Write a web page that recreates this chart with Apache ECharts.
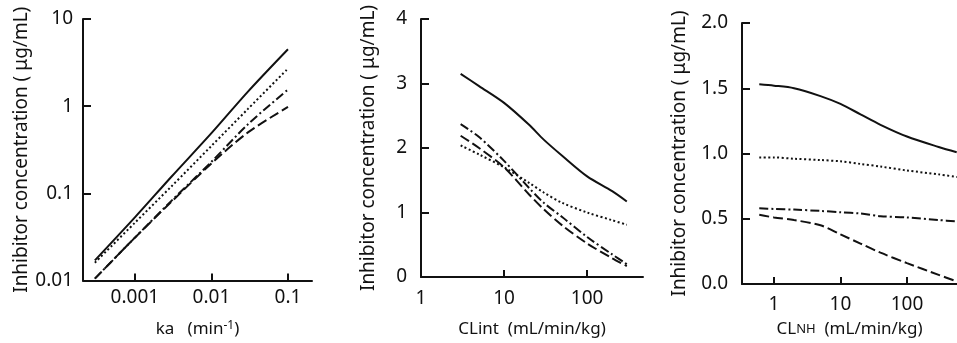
<!DOCTYPE html>
<html>
<head>
<meta charset="utf-8">
<script src="https://cdn.jsdelivr.net/npm/echarts@6/dist/echarts.min.js"></script>
<style>
html,body{margin:0;padding:0;background:#fff;}
#c{width:957px;height:343px;}
</style>
</head>
<body>
<div id="c"></div>
<script>
// ---- Panel 1: ka (log-log) ----
const p1X = [0.0003, 0.001, 0.003, 0.01, 0.03, 0.1];
const p1Solid = [0.017, 0.053, 0.155, 0.49, 1.47, 4.5];
const p1Dotted = [0.016, 0.046, 0.12, 0.35, 0.93, 2.7];
const p1DashDot = [0.0105, 0.031, 0.082, 0.23, 0.62, 1.55];
const p1LongDash = [0.0105, 0.031, 0.08, 0.22, 0.5, 0.98];
const p1XTicks = [0.001, 0.01, 0.1];
const p1YTicks = [0.01, 0.1, 1, 10];

// ---- Panel 2: CLint ----
const p2X = [3, 5, 10, 20, 30, 50, 100, 200, 300];
const p2Solid = [3.15, 2.96, 2.7, 2.36, 2.13, 1.88, 1.56, 1.33, 1.17];
const p2Dotted = [2.04, 1.9, 1.7, 1.46, 1.31, 1.15, 1.0, 0.88, 0.81];
const p2DashDot = [2.37, 2.17, 1.8, 1.38, 1.15, 0.93, 0.62, 0.35, 0.2];
const p2LongDash = [2.19, 2.0, 1.7, 1.28, 1.05, 0.8, 0.52, 0.29, 0.17];
const p2XTicks = [1, 10, 100];

// ---- Panel 3: CLNH ----
const p3X = [0.6, 1, 2, 5, 10, 20, 40, 100, 300, 560];
const p3Solid = [1.53, 1.52, 1.5, 1.44, 1.38, 1.3, 1.22, 1.13, 1.05, 1.01];
const p3Dotted = [0.97, 0.97, 0.96, 0.95, 0.94, 0.92, 0.9, 0.87, 0.84, 0.82];
const p3DashDot = [0.58, 0.575, 0.57, 0.56, 0.55, 0.54, 0.52, 0.51, 0.49, 0.48];
const p3LongDash = [0.53, 0.51, 0.49, 0.45, 0.38, 0.31, 0.24, 0.16, 0.07, 0.02];
const p3XTicks = [1, 10, 100];

const yName = 'Inhibitor concentration ( μg/mL)';
const FONT = 'Noto Sans';
const INK = '#111';
const LBL = 19;

function zip(xs, ys) { return xs.map((x, i) => [x, ys[i]]); }

const styles = {
  solid: { type: 'solid', width: 2 },
  dotted: { type: [2, 2.5], width: 2 },
  dashdot: { type: [9, 3, 2, 3], width: 2 },
  longdash: { type: [10, 4], width: 2 }
};

function line(idx, xs, ys, st) {
  return {
    type: 'line', xAxisIndex: idx, yAxisIndex: idx,
    data: zip(xs, ys), symbol: 'none', smooth: 0.3,
    lineStyle: Object.assign({ color: INK }, styles[st]),
    silent: true, animation: false
  };
}

const axisCommon = {
  axisLine: { lineStyle: { color: INK, width: 2 } },
  splitLine: { show: false },
  minorTick: { show: false }
};

function fmt(v) { return String(+Number(v).toPrecision(3)); }

function xAxis(idx, min, max, ticks, name, gap, margin, rich) {
  return Object.assign({}, axisCommon, {
    gridIndex: idx, type: 'log', logBase: 10, min: min, max: max,
    axisTick: { inside: true, length: 7, customValues: ticks, lineStyle: { color: INK, width: 2 } },
    axisLabel: { customValues: ticks, formatter: fmt, color: INK, fontSize: LBL, fontFamily: FONT, margin: margin },
    name: name, nameLocation: 'middle', nameGap: gap,
    nameTextStyle: { color: INK, fontSize: 17, fontFamily: FONT, rich: rich }
  });
}

function yAxisLog(idx, min, max, ticks, gap, margin) {
  return Object.assign({}, axisCommon, {
    gridIndex: idx, type: 'log', logBase: 10, min: min, max: max,
    axisTick: { inside: true, length: 8, customValues: ticks, lineStyle: { color: INK, width: 2 } },
    axisLabel: { customValues: ticks, formatter: fmt, color: INK, fontSize: LBL, fontFamily: FONT, margin: margin },
    name: yName, nameLocation: 'middle', nameGap: gap, nameRotate: 90,
    nameTextStyle: { color: INK, fontSize: 19, fontFamily: FONT }
  });
}

function yAxisVal(idx, min, max, interval, decimals, gap, margin) {
  return Object.assign({}, axisCommon, {
    gridIndex: idx, type: 'value', min: min, max: max, interval: interval,
    axisTick: { inside: true, length: 8, lineStyle: { color: INK, width: 2 } },
    axisLabel: { formatter: v => Number(v).toFixed(decimals), color: INK, fontSize: LBL, fontFamily: FONT, margin: margin },
    name: yName, nameLocation: 'middle', nameGap: gap, nameRotate: 90,
    nameTextStyle: { color: INK, fontSize: 19, fontFamily: FONT }
  });
}

const supRich = {
  sup: { fontSize: 12, fontFamily: FONT, color: INK, verticalAlign: 'top', padding: [0, 0, 8, 0] }
};
const scRich = {
  sc: { fontSize: 13, fontFamily: FONT, color: INK }
};

const option = {
  backgroundColor: '#fff',
  animation: false,
  grid: [
    { left: 83, top: 19, width: 229, height: 264 },
    { left: 421, top: 19, width: 222, height: 264 },
    { left: 742, top: 23, width: 215, height: 264 }
  ],
  xAxis: [
    xAxis(0, 0.00021, 0.206, p1XTicks, 'ka   (min{sup|-1})', 39, 8, supRich),
    xAxis(1, 1, 470, p2XTicks, 'CLint  (mL/min/kg)', 44, 12, null),
    xAxis(2, 0.33, 566, p3XTicks, 'CL{sc|NH}  (mL/min/kg)', 37, 11, scRich)
  ],
  yAxis: [
    yAxisLog(0, 0.01, 10, p1YTicks, 50, 10),
    yAxisVal(1, 0, 4, 1, 0, 43, 14),
    yAxisVal(2, 0, 2, 0.5, 1, 53, 14)
  ],
  series: [
    line(0, p1X, p1Solid, 'solid'),
    line(0, p1X, p1Dotted, 'dotted'),
    line(0, p1X, p1DashDot, 'dashdot'),
    line(0, p1X, p1LongDash, 'longdash'),
    line(1, p2X, p2Solid, 'solid'),
    line(1, p2X, p2Dotted, 'dotted'),
    line(1, p2X, p2DashDot, 'dashdot'),
    line(1, p2X, p2LongDash, 'longdash'),
    line(2, p3X, p3Solid, 'solid'),
    line(2, p3X, p3Dotted, 'dotted'),
    line(2, p3X, p3DashDot, 'dashdot'),
    line(2, p3X, p3LongDash, 'longdash')
  ]
};

const chart = echarts.init(document.getElementById('c'), null, { renderer: 'canvas' });
chart.setOption(option);
</script>
</body>
</html>
